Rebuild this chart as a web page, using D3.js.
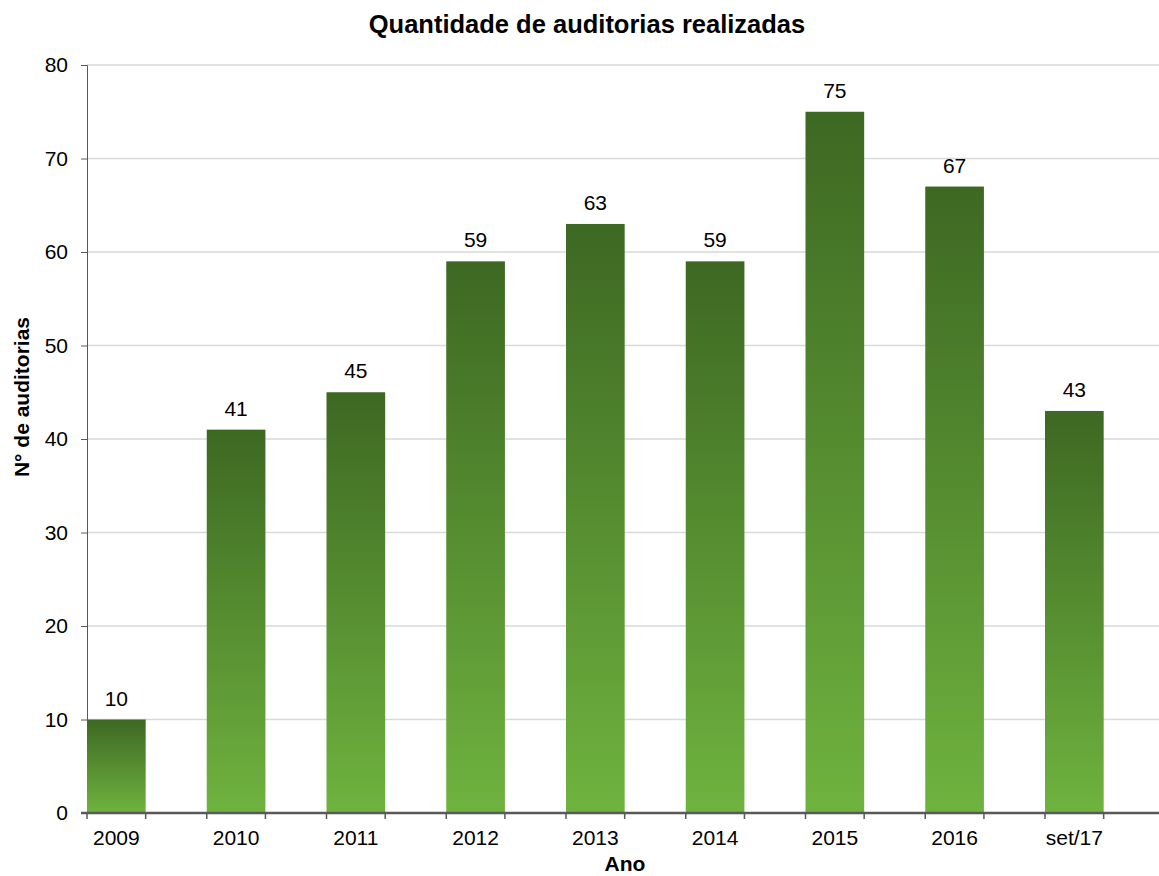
<!DOCTYPE html>
<html>
<head>
<meta charset="utf-8">
<script src="https://cdn.jsdelivr.net/npm/d3@7"></script>
<style>
  body { margin: 0; background: #fff; }
  text { font-family: "Liberation Sans", Arial, sans-serif; fill: #000; }
</style>
</head>
<body>
<div id="chart"></div>
<script>
var categories = ['2009', '2010', '2011', '2012', '2013', '2014', '2015', '2016', 'set/17']
var values = [10, 41, 45, 59, 63, 59, 75, 67, 43]
var yTicks = [0, 10, 20, 30, 40, 50, 60, 70, 80]

var width = 1159, height = 876
var svg = d3.select('#chart').append('svg')
  .attr('width', width).attr('height', height)

// plot area runs past the right edge of the picture, like the original export
var plotLeft = 87, plotTop = 65, plotBottom = 813
var step = 119.75

var x = d3.scaleBand().domain(categories)
  .range([plotLeft, plotLeft + step * categories.length]).paddingInner(0).paddingOuter(0)
var barW = x.bandwidth() * 0.49
var y = d3.scaleLinear().domain([0, 80]).range([plotBottom, plotTop])

var grad = svg.append('defs').append('linearGradient')
  .attr('id', 'barGrad').attr('x1', 0).attr('y1', 0).attr('x2', 0).attr('y2', 1)
grad.append('stop').attr('offset', '0%').attr('stop-color', '#3d6822')
grad.append('stop').attr('offset', '100%').attr('stop-color', '#6fb33f')

// gridlines
svg.append('g').selectAll('line').data(yTicks.slice(1)).join('line')
  .attr('x1', plotLeft).attr('x2', width)
  .attr('y1', d => y(d)).attr('y2', d => y(d))
  .attr('stroke', '#d9d9d9').attr('stroke-width', 1.5)

// y axis
var yAxis = svg.append('g').attr('transform', 'translate(' + plotLeft + ',0)')
  .call(d3.axisLeft(y).tickValues(yTicks).tickSize(6).tickPadding(13))
yAxis.select('.domain').attr('stroke', '#595959').attr('stroke-width', 1)
yAxis.selectAll('.tick line').attr('stroke', '#595959')
yAxis.selectAll('.tick text').attr('font-size', 21).attr('fill', '#000')
  .attr('font-family', '"Liberation Sans", Arial, sans-serif')

// bars
svg.append('g').selectAll('rect').data(values).join('rect')
  .attr('x', (d, i) => x(categories[i]))
  .attr('y', d => y(d))
  .attr('width', barW)
  .attr('height', d => plotBottom - y(d))
  .attr('fill', 'url(#barGrad)')

// value labels
svg.append('g').selectAll('text').data(values).join('text')
  .attr('x', (d, i) => x(categories[i]) + barW / 2)
  .attr('y', d => y(d) - 14)
  .attr('text-anchor', 'middle')
  .attr('font-size', 21)
  .text(d => d)

// x axis line
svg.append('line')
  .attr('x1', plotLeft - 6).attr('x2', width)
  .attr('y1', plotBottom).attr('y2', plotBottom)
  .attr('stroke', '#595959').attr('stroke-width', 2.5)

// ticks on both edges of each bar
var edges = []
categories.forEach(function(c) { edges.push(x(c), x(c) + barW) })
svg.append('g').selectAll('line').data(edges).join('line')
  .attr('x1', d => d).attr('x2', d => d)
  .attr('y1', plotBottom).attr('y2', plotBottom + 6)
  .attr('stroke', '#595959').attr('stroke-width', 1.5)

// category labels
svg.append('g').selectAll('text').data(categories).join('text')
  .attr('x', d => x(d) + barW / 2)
  .attr('y', plotBottom + 32)
  .attr('text-anchor', 'middle')
  .attr('font-size', 21)
  .text(d => d)

// titles
svg.append('text')
  .attr('x', 587).attr('y', 33)
  .attr('text-anchor', 'middle')
  .attr('font-size', 25.5).attr('font-weight', 'bold')
  .text('Quantidade de auditorias realizadas')

svg.append('text')
  .attr('x', 625).attr('y', 871)
  .attr('text-anchor', 'middle')
  .attr('font-size', 21).attr('font-weight', 'bold')
  .text('Ano')

svg.append('text')
  .attr('transform', 'translate(29,' + 397 + ') rotate(-90)')
  .attr('text-anchor', 'middle')
  .attr('font-size', 21).attr('font-weight', 'bold')
  .text('N° de auditorias')
</script>
</body>
</html>
